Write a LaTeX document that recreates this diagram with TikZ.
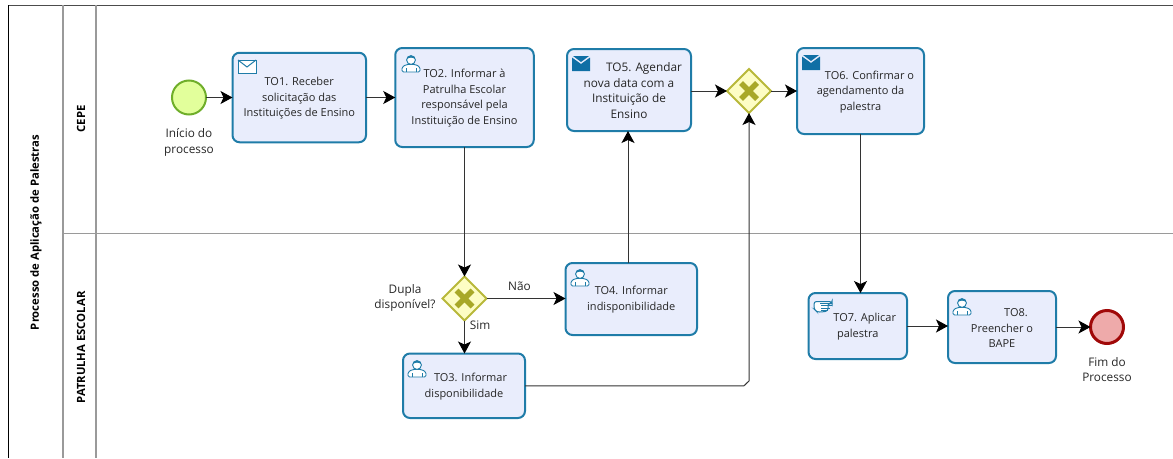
\documentclass[tikz,border=0pt]{standalone}
\usepackage{fontspec}
\setmainfont{Open Sans}
\usetikzlibrary{shapes.geometric,arrows.meta}
\definecolor{taskline}{HTML}{1F7CA8}
\definecolor{taskfill}{HTML}{E9EDFC}
\definecolor{iconblue}{HTML}{0F6FA5}
\definecolor{gateline}{HTML}{B8B83A}
\definecolor{gatefill}{HTML}{FDFDC4}
\definecolor{gatex}{HTML}{A8A828}
\definecolor{startline}{HTML}{6FAE2A}
\definecolor{startfill}{HTML}{E2FF9B}
\definecolor{endline}{HTML}{A00808}
\definecolor{endfill}{HTML}{EEAAAA}
\definecolor{laneline}{HTML}{9A9A9A}
\definecolor{flowline}{HTML}{333333}
\newcommand{\dnstrut}{\rule{0pt}{10pt}}
\tikzset{
  taskbox/.style={draw=taskline,fill=taskfill,line width=2pt,rounded corners=7pt,inner sep=0pt,outer sep=0pt,align=center,font=\fontsize{11}{15.5}\selectfont,text=black!85},
  gatebox/.style={diamond,draw=gateline,fill=gatefill,line width=2pt,minimum width=44pt,minimum height=44pt,inner sep=0pt,outer sep=0pt},
  startev/.style={circle,draw=startline,fill=startfill,line width=2pt,minimum size=34pt,inner sep=0pt,outer sep=0pt},
  endev/.style={circle,draw=endline,fill=endfill,line width=3pt,minimum size=33pt,inner sep=0pt,outer sep=0pt},
  flow/.style={draw=flowline,line width=1pt,-{Stealth[length=12pt,width=13pt,inset=3pt,color=black]}},
  lab/.style={align=center,inner sep=0pt,font=\fontsize{11.8}{15.5}\selectfont,text=black!85},
  lanetitle/.style={rotate=90,inner sep=0pt,font=\fontsize{11.3}{13}\selectfont\bfseries},
  laneln/.style={draw=laneline,line width=1.4pt},
  pics/gatemark/.style={code={
    \draw[gatex,line width=5.5pt] (-8,-8)--(8,8) (-8,8)--(8,-8);
  }},
  pics/usericon/.style={code={
    \draw[taskline,line width=.9pt,fill=white,rounded corners=1.5pt] (0,17)--(0,12)--(4.5,9.5)--(13.5,9.5)--(18,12)--(18,17)--cycle;
    \draw[taskline,line width=.9pt] (4,17)--(4,13) (14,17)--(14,13);
    \draw[taskline,line width=.9pt,fill=white] (9,5) circle (4.4pt);
    \fill[taskline] (4.8,4) .. controls (5.5,-.4) and (12.5,-.4) .. (13.2,4) .. controls (10,2.2) and (8,2.2) .. (4.8,4);
  }},
  pics/mailoutline/.style={code={
    \draw[taskline,line width=1pt,fill=white] (0,0) rectangle (18,13);
    \draw[taskline,line width=1pt] (0,0)--(9,7)--(18,0);
  }},
  pics/mailfilled/.style={code={
    \fill[iconblue] (0,1.5)--(9,8)--(18,1.5)--(18,15)--(0,15)--cycle;
    \fill[iconblue] (1,0)--(17,0)--(9,6)--cycle;
  }},
  pics/handicon/.style={code={
    \draw[taskline,line width=1pt,fill=white,rounded corners=2.5pt] (0,1.5)--(18,1.5)--(18,3.5)--(14,3.5)--(14,11)--(8,12)--(3,12)--(0,9)--cycle;
    \draw[taskline,line width=.9pt] (6,3.5)--(18,3.5) (7,5.8)--(18,5.8) (7,8.1)--(16,8.1) (7,10.4)--(14,10.4);
  }}
}
\begin{document}
\begin{tikzpicture}[x=1pt,y=-1pt]
\useasboundingbox (0,0) rectangle (1173,458);
% pool and lanes
\coordinate (pooltl) at (8,5);
\coordinate (pooltr) at (1173,5);
\coordinate (poolbl) at (8,458);
\coordinate (lanea) at (63,5);
\coordinate (laneab) at (63,458);
\coordinate (laneb) at (96,5);
\coordinate (lanebb) at (96,458);
\coordinate (sepl) at (63,233);
\coordinate (sepr) at (1173,233);
\draw[draw=black!70,line width=1pt] (pooltl) -- (pooltr);
\draw[laneln] (lanea) -- (laneab);
\draw[laneln] (laneb) -- (lanebb);
\draw[draw=laneline,line width=1pt] (sepl) -- (sepr);
\draw[black,line width=.9pt] (pooltl) -- (poolbl);
\node[lanetitle] (pooltitle) at (36,232.5) {Processo de Aplicação de Palestras};
\node[lanetitle] (lanecepe) at (81,119) {CEPE};
\node[lanetitle] (lanepatrulha) at (81,347.5) {PATRULHA ESCOLAR};
% events and gateways
\node[startev] (start) at (189,97.5) {};
\node[endev] (fim) at (1107,327) {};
\node[gatebox] (gw1) at (749,91) {};
\node[gatebox] (gw2) at (464.5,298.5) {};
\pic at (gw1) {gatemark};
\pic at (gw2) {gatemark};
% tasks
\node[taskbox,minimum width=133.5pt,minimum height=89.5pt] (t1) at (299.25,97.5) {\dnstrut TO1. Receber\\solicitação das\\Instituições de Ensino};
\node[taskbox,minimum width=138.5pt,minimum height=99pt] (t2) at (464.5,97.5) {\dnstrut TO2. Informar à\\Patrulha Escolar\\responsável pela\\Instituição de Ensino};
\node[taskbox,minimum width=124pt,minimum height=82pt,font=\fontsize{11.8}{15.5}\selectfont] (t5) at (629,90) {\dnstrut\hspace*{30pt}TO5. Agendar\\nova data com a\\Instituição de\\Ensino};
\node[taskbox,minimum width=127pt,minimum height=86pt] (t6) at (860.5,91) {\dnstrut\hspace*{18pt}TO6. Confirmar o\\agendamento da\\palestra};
\node[taskbox,minimum width=131.5pt,minimum height=72pt] (t4) at (631.25,299) {\dnstrut TO4. Informar\\indisponibilidade};
\node[taskbox,minimum width=122pt,minimum height=64.5pt] (t3) at (464,385.75) {\dnstrut\hspace*{13pt}TO3. Informar\\disponibilidade};
\node[taskbox,minimum width=98.5pt,minimum height=66pt] (t7) at (857.75,326) {\dnstrut\hspace*{14pt}TO7. Aplicar\\palestra};
\node[taskbox,minimum width=108pt,minimum height=72pt] (t8) at (1002,327) {\dnstrut\hspace*{28pt}TO8.\\Preencher o\\BAPE};
% icons
\pic at (238,60) {mailoutline};
\pic at (402,55) {usericon};
\pic at (572,56) {mailfilled};
\pic at (802,55) {mailfilled};
\pic at (571,269) {usericon};
\pic at (408,360) {usericon};
\pic at (814,300) {handicon};
\pic at (953,298) {usericon};
% labels
\node[lab] (labinicio) at (189,142.5) {Início do\\processo};
\node[lab] (labfim) at (1107,369.5) {Fim do\\Processo};
\node[lab] (labdupla) at (405,298) {Dupla\\disponível?};
\node[lab] (labnao) at (519.5,286.5) {Não};
\node[lab] (labsim) at (480,325.5) {Sim};
% flows
\draw[flow] (start) -- (t1);
\draw[flow] (t1.east) -- (t1.east -| t2.west);
\draw[flow] (t2.south) -- (gw2.north);
\draw[flow] (gw2.east) -- (gw2.east -| t4.west);
\draw[flow] (gw2.south) -- (gw2.south |- t3.north);
\draw[flow] (t4.north -| t5.south) ++(-1,0) -- ([xshift=-1pt]t5.south);
\draw[flow] (t5.east |- gw1.west) -- (gw1.west);
\draw[flow] (gw1.east) -- (gw1.east -| t6.west);
\draw[flow] (t3.east) -- (744,385.75) -- (749,381) -- (gw1.south);
\draw[flow] (t6.south) -- (t6.south |- t7.north);
\draw[flow] (t7.east) -- (t8.west |- t7.east);
\draw[flow] (t8.east) -- (fim.west);
\end{tikzpicture}
\end{document}
